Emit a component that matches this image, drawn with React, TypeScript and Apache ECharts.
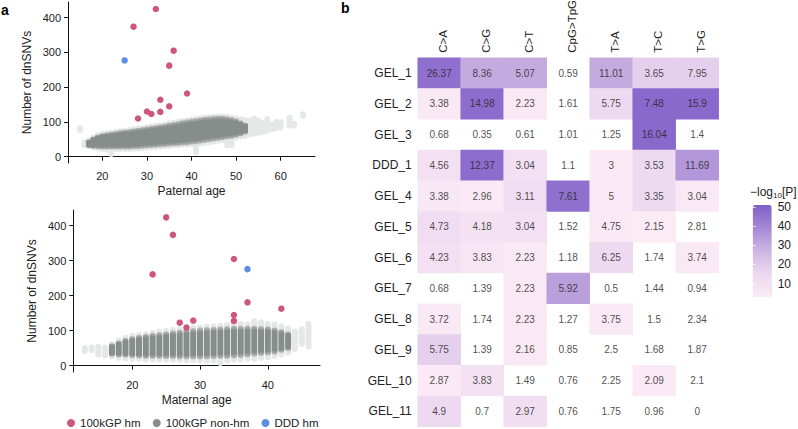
import React, { useEffect, useRef } from "react";
import * as echarts from "echarts";

// ---------- Panel a: paternal age ----------
const patAges = [15, 16, 17, 18, 19, 20, 21, 22, 23, 24, 25, 26, 27, 28, 29, 30, 31, 32, 33, 34, 35, 36, 37, 38, 39, 40, 41, 42, 43, 44, 45, 46, 47, 48, 49, 50, 51, 52, 53, 54, 55, 56, 57, 58, 59, 60, 62, 63, 65];
const patCoreLo = [null, null, 33, 31, 30, 29, 29, 29, 29, 29, 29, 29, 30, 30, 31, 32, 33, 34, 35, 36, 37, 38, 39, 40, 41, 43, 44, 46, 48, 50, 52, 54, 56, 58, 60, 63, 67, 72, null, null, null, null, null, null, null, null, null, null, null];
const patCoreHi = [null, null, 42, 50, 56, 60, 62, 64, 66, 68, 70, 71, 73, 75, 77, 79, 81, 83, 85, 87, 90, 92, 94, 97, 99, 101, 103, 105, 107, 108, 109, 110, 110, 108, 106, 102, 96, 90, null, null, null, null, null, null, null, null, null, null, null];
const patHaloLo = [77, 33, 30, 27, 24, 22, 20, 8, 22, 22, 22, 22, 23, 24, 25, 26, 27, 28, 29, 30, 31, 32, 33, 34, 35, 36, 12, 38, 40, 42, 44, 46, 48, 33, 33, 55, 58, 60, 64, 66, 68, 72, 75, 78, 82, 84, 90, 90, 118];
const patHaloHi = [82, 42, 48, 56, 62, 66, 68, 70, 72, 74, 75, 77, 79, 81, 83, 85, 87, 89, 91, 93, 96, 98, 100, 103, 105, 107, 109, 111, 113, 114, 115, 116, 116, 115, 113, 110, 108, 106, 104, 110, 104, 98, 108, 92, 100, 100, 112, 95, 122];

const patHmAge = [32, 27, 36, 35, 39, 33, 35, 30, 33, 31, 28];
const patHmCount = [425, 374, 305, 262, 182, 164, 145, 130, 129, 123, 110];
const patDddAge = [25];
const patDddCount = [277];

// ---------- Panel a: maternal age ----------
const matAges = [13, 14, 15, 16, 17, 18, 19, 20, 21, 22, 23, 24, 25, 26, 27, 28, 29, 30, 31, 32, 33, 34, 35, 36, 37, 38, 39, 40, 41, 42, 43, 44, 45, 46];
const matCoreLo = [null, null, null, null, 34, 32, 31, 30, 29, 28, 28, 28, 27, 27, 26, 26, 26, 26, 26, 27, 28, 28, 29, 30, 32, 34, 36, 38, 40, 45, 50, null, null, null];
const matCoreHi = [null, null, null, null, 56, 64, 71, 76, 80, 83, 86, 88, 90, 93, 95, 97, 99, 101, 102, 103, 104, 105, 106, 106, 106, 106, 105, 104, 101, 96, 90, null, null, null];
const matHaloLo = [42, 45, 32, 30, 26, 23, 21, 20, 20, 18, 18, 18, 17, 17, 16, 15, 15, 15, 14, 14, 8, 14, 16, 17, 20, 20, 22, 24, 27, 32, 38, 48, 62, 55];
const matHaloHi = [50, 52, 54, 52, 62, 72, 80, 86, 88, 90, 94, 98, 100, 102, 104, 106, 108, 110, 112, 113, 114, 116, 118, 120, 118, 128, 124, 120, 118, 112, 106, 98, 104, 120];

const matHmAge = [25, 26, 35, 23, 37, 42, 35, 35, 29, 27, 28];
const matHmCount = [424, 374, 305, 261, 181, 163, 145, 128, 129, 123, 109];
const matDddAge = [37];
const matDddCount = [276];

const yTicks = [0, 100, 200, 300, 400];
const patXTicks = [20, 30, 40, 50, 60];
const matXTicks = [20, 30, 40];

// ---------- Panel b: heatmap ----------
const mutTypes = ["C>A", "C>G", "C>T", "CpG>TpG", "T>A", "T>C", "T>G"];
const samples = ["GEL_1", "GEL_2", "GEL_3", "DDD_1", "GEL_4", "GEL_5", "GEL_6", "GEL_7", "GEL_8", "GEL_9", "GEL_10", "GEL_11"];
const cellLabels = [
  [26.37, 8.36, 5.07, 0.59, 11.01, 3.65, 7.95],
  [3.38, 14.98, 2.23, 1.61, 5.75, 7.48, 15.9],
  [0.68, 0.35, 0.61, 1.01, 1.25, 16.04, 1.4],
  [4.56, 12.37, 3.04, 1.1, 3, 3.53, 11.69],
  [3.38, 2.96, 3.11, 7.61, 5, 3.35, 3.04],
  [4.73, 4.18, 3.04, 1.52, 4.75, 2.15, 2.81],
  [4.23, 3.83, 2.23, 1.18, 6.25, 1.74, 3.74],
  [0.68, 1.39, 2.23, 5.92, 0.5, 1.44, 0.94],
  [3.72, 1.74, 2.23, 1.27, 3.75, 1.5, 2.34],
  [5.75, 1.39, 2.16, 0.85, 2.5, 1.68, 1.87],
  [2.87, 3.83, 1.49, 0.76, 2.25, 2.09, 2.1],
  [4.9, 0.7, 2.97, 0.76, 1.75, 0.96, 0],
];
const negLogP = [
  [46, 30, 30, null, 30, 18, 18],
  [5, 47, 5, null, 14, 48, 48],
  [null, null, null, null, null, 48, null],
  [10, 47, 10, null, 4, 14, 35],
  [6, 4, 12, 46, 4, 14, 5],
  [12, 9, 10, null, 5, 3.5, null],
  [10, 7, 5, null, 14, null, 5],
  [null, null, 5, 33, null, null, null],
  [5, null, 5, null, 5, null, null],
  [18, null, 5, null, null, null, null],
  [4, 9, null, null, null, 4, null],
  [14, null, 11, null, null, null, null],
];
const colorbarTicks = [10, 20, 30, 40, 50];

const FONT = "'Liberation Sans', Arial, Helvetica, sans-serif";
const PINK = "#cd5779";
const BLUE = "#5a8fe6";
const GREY = "#868d8a";
const HALO = "#e6e8e7";

function cloudData(ages: number[], cl: any[], ch: any[], hl: any[], hh: any[]) {
  return ages.map((a, i) => [a, cl[i] ?? NaN, ch[i] ?? NaN, hl[i] ?? NaN, hh[i] ?? NaN]);
}

function cloudRender(kind: "halo" | "core") {
  return (params: any, api: any) => {
    const lo = api.value(kind === "halo" ? 3 : 1);
    const hi = api.value(kind === "halo" ? 4 : 2);
    if (lo == null || hi == null || isNaN(lo) || isNaN(hi)) return null;
    const x = api.value(0);
    const a = api.coord([x, hi]);
    const b = api.coord([x, lo]);
    const fill =
      kind === "halo"
        ? HALO
        : new echarts.graphic.LinearGradient(0, 0, 0, 1, [
            { offset: 0, color: "#bcc0be" },
            { offset: 0.15, color: GREY },
            { offset: 0.85, color: GREY },
            { offset: 1, color: "#bcc0be" },
          ]);
    return {
      type: "rect",
      shape: { x: a[0] - 3, y: a[1] - 3, width: 6, height: b[1] - a[1] + 6, r: 3 },
      style: { fill },
    };
  };
}

function scatterAxes(gridIndex: number, xmin: number, xmax: number, xticks: number[], xname: string) {
  const axisLine = { show: true, lineStyle: { color: "#111", width: 1 } };
  const axisTick = { show: true, length: 4, lineStyle: { color: "#111", width: 1 } };
  const xAxis = {
    type: "value",
    gridIndex,
    min: xmin,
    max: xmax,
    name: xname,
    nameLocation: "middle",
    nameGap: 22,
    nameTextStyle: { fontSize: 12, color: "#222", fontFamily: FONT },
    axisLine,
    axisTick: { ...axisTick, customValues: xticks },
    axisLabel: { customValues: xticks, fontSize: 11, color: "#222", margin: 7, fontFamily: FONT },
    splitLine: { show: false },
  };
  const yAxis = {
    type: "value",
    gridIndex,
    min: -18,
    max: 445,
    name: "Number of dnSNVs",
    nameLocation: "middle",
    nameGap: 35,
    nameTextStyle: { fontSize: 12, color: "#222", fontFamily: FONT },
    axisLine,
    axisTick: { ...axisTick, customValues: yTicks },
    axisLabel: { customValues: yTicks, fontSize: 11, color: "#222", margin: 7, fontFamily: FONT },
    splitLine: { show: false },
  };
  return { xAxis, yAxis };
}

export default function App() {
  const ref = useRef<HTMLDivElement>(null);
  useEffect(() => {
    if (!ref.current) return;
    const chart = echarts.init(ref.current, null, { renderer: "svg" });

    const pat = scatterAxes(0, 12.3, 67.7, patXTicks, "Paternal age");
    const mat = scatterAxes(1, 11.3, 47.7, matXTicks, "Maternal age");

    const patCloud = cloudData(patAges, patCoreLo, patCoreHi, patHaloLo, patHaloHi);
    const matCloud = cloudData(matAges, matCoreLo, matCoreHi, matHaloLo, matHaloHi);

    const heatData: any[] = [];
    const labelData: any[] = [];
    samples.forEach((s, yi) => {
      mutTypes.forEach((m, xi) => {
        const v = negLogP[yi][xi];
        if (v != null) heatData.push([xi, yi, v]);
        labelData.push([xi, yi, cellLabels[yi][xi]]);
      });
    });

    const option: any = {
      animation: false,
      textStyle: { fontFamily: FONT },
      grid: [
        { left: 68, top: 2, width: 247, height: 161 },
        { left: 73.3, top: 210, width: 246.7, height: 162 },
        { left: 417.7, top: 57.7, width: 301, height: 369 },
        { left: 752.7, top: 205, width: 19, height: 92 },
      ],
      xAxis: [
        pat.xAxis,
        mat.xAxis,
        {
          type: "category",
          gridIndex: 2,
          data: mutTypes,
          position: "top",
          axisLine: { show: false },
          axisTick: { show: false },
          axisLabel: { show: false },
        },
        { type: "value", gridIndex: 3, show: false, min: 0, max: 1 },
      ],
      yAxis: [
        pat.yAxis,
        mat.yAxis,
        {
          type: "category",
          gridIndex: 2,
          data: samples,
          inverse: true,
          axisLine: { show: false },
          axisTick: { show: false },
          axisLabel: { fontSize: 12, color: "#222", margin: 6, fontFamily: FONT, interval: 0 },
        },
        {
          type: "value",
          gridIndex: 3,
          position: "right",
          min: 3,
          max: 51,
          z: 10,
          axisLine: { show: false },
          axisTick: { show: true, inside: true, length: 3, customValues: colorbarTicks, lineStyle: { color: "rgba(255,255,255,0.8)", width: 1 } },
          axisLabel: { customValues: colorbarTicks, fontSize: 12, color: "#222", margin: 6, fontFamily: FONT },
          splitLine: { show: false },
        },
        {
          type: "value",
          gridIndex: 3,
          position: "left",
          min: 3,
          max: 51,
          z: 10,
          axisLine: { show: false },
          axisTick: { show: true, inside: true, length: 3, customValues: colorbarTicks, lineStyle: { color: "rgba(255,255,255,0.8)", width: 1 } },
          axisLabel: { show: false },
          splitLine: { show: false },
        },
      ],
      visualMap: {
        type: "continuous",
        seriesIndex: 8,
        min: 3,
        max: 51,
        left: 752.7,
        top: 205,
        itemWidth: 19,
        itemHeight: 92,
        padding: 0,
        calculable: false,
        hoverLink: false,
        inRange: { color: ["#fcecf5", "#ecd8ef", "#cdb6e3", "#a688d6", "#7f5fc8"] },
      },
      legend: {
        left: 67,
        top: 417,
        padding: 0,
        itemWidth: 8,
        itemHeight: 8,
        itemGap: 12,
        icon: "circle",
        selectedMode: false,
        textStyle: { fontSize: 11.5, color: "#222", fontFamily: FONT },
        data: ["100kGP hm", "100kGP non-hm", "DDD hm"],
      },
      graphic: [
        { id: "la", type: "text", left: 1, top: 3, style: { text: "a", fontSize: 14, fontWeight: "bold", fill: "#000", fontFamily: FONT } },
        { id: "lb", type: "text", left: 341, top: 1, style: { text: "b", fontSize: 14, fontWeight: "bold", fill: "#000", fontFamily: FONT } },
        {
          id: "cbtitle",
          type: "text",
          left: 750,
          top: 186,
          style: {
            text: "\u2212log{sub|10}[P]",
            fontSize: 12,
            fill: "#222",
            fontFamily: FONT,
            rich: { sub: { fontSize: 8, verticalAlign: "bottom", padding: [6, 0, 0, 0], fill: "#222", fontFamily: FONT } },
          },
        },
      ],
      series: [
        // 0-3 paternal
        { type: "custom", name: "halo", xAxisIndex: 0, yAxisIndex: 0, data: patCloud, renderItem: cloudRender("halo"), silent: true, encode: { x: 0, y: 3 } },
        { type: "custom", name: "100kGP non-hm", xAxisIndex: 0, yAxisIndex: 0, data: patCloud, renderItem: cloudRender("core"), itemStyle: { color: GREY }, silent: true, encode: { x: 0, y: 1 } },
        { type: "scatter", name: "100kGP hm", xAxisIndex: 0, yAxisIndex: 0, symbolSize: 6.5, itemStyle: { color: PINK, opacity: 1 }, data: patHmAge.map((a, i) => [a, patHmCount[i]]) },
        { type: "scatter", name: "DDD hm", xAxisIndex: 0, yAxisIndex: 0, symbolSize: 6.5, itemStyle: { color: BLUE, opacity: 1 }, data: patDddAge.map((a, i) => [a, patDddCount[i]]) },
        // 4-7 maternal
        { type: "custom", name: "halo", xAxisIndex: 1, yAxisIndex: 1, data: matCloud, renderItem: cloudRender("halo"), silent: true, encode: { x: 0, y: 3 } },
        { type: "custom", name: "100kGP non-hm", xAxisIndex: 1, yAxisIndex: 1, data: matCloud, renderItem: cloudRender("core"), itemStyle: { color: GREY }, silent: true, encode: { x: 0, y: 1 } },
        { type: "scatter", name: "100kGP hm", xAxisIndex: 1, yAxisIndex: 1, symbolSize: 6.5, itemStyle: { color: PINK, opacity: 1 }, data: matHmAge.map((a, i) => [a, matHmCount[i]]) },
        { type: "scatter", name: "DDD hm", xAxisIndex: 1, yAxisIndex: 1, symbolSize: 6.5, itemStyle: { color: BLUE, opacity: 1 }, data: matDddAge.map((a, i) => [a, matDddCount[i]]) },
        // 8 heatmap colour cells
        { type: "heatmap", xAxisIndex: 2, yAxisIndex: 2, data: heatData, silent: true, emphasis: { disabled: true } },
        // 9 cell labels
        {
          type: "scatter",
          name: "labels",
          xAxisIndex: 2,
          yAxisIndex: 2,
          symbol: "rect",
          symbolSize: 1,
          silent: true,
          itemStyle: { color: "rgba(0,0,0,0)" },
          label: { show: true, position: "inside", fontSize: 10, color: "#222", fontFamily: FONT, formatter: (p: any) => String(p.value[2]) },
          data: labelData,
        },
        // 10 dummy for colorbar axes
        { type: "scatter", xAxisIndex: 3, yAxisIndex: 3, data: [], silent: true },
      ],
    };
    chart.setOption(option);

    // Column labels of the heatmap, placed from the category axis scale.
    const gridTop = 57.7;
    const colLabels = mutTypes.map((m, i) => {
      const px = chart.convertToPixel({ xAxisIndex: 2 } as any, i) as unknown as number;
      return {
        id: "col" + i,
        type: "text",
        x: px + 4,
        y: gridTop - 5,
        rotation: Math.PI / 2,
        style: { text: m, fontSize: 11.5, fill: "#222", fontFamily: FONT, align: "left", verticalAlign: "middle" },
      };
    });
    chart.setOption({ graphic: colLabels });

    return () => chart.dispose();
  }, []);
  return <div ref={ref} style={{ position: "fixed", left: 0, top: 0, width: 798, height: 429, background: "#fff" }} />;
}
